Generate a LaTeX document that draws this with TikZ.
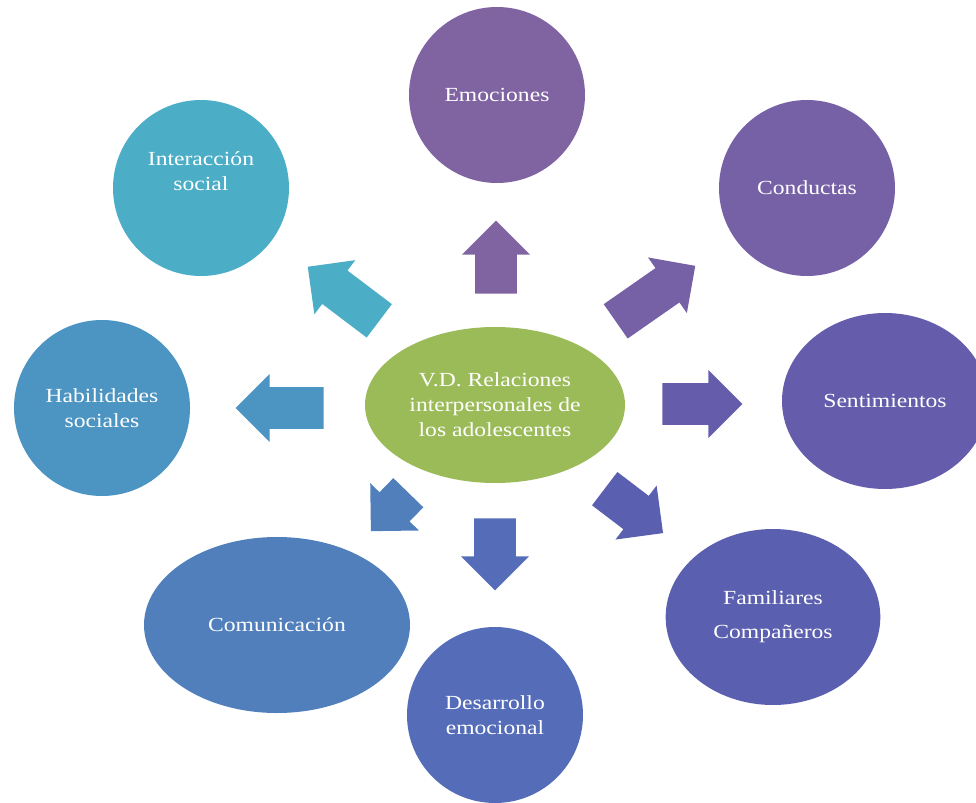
\documentclass[tikz,border=0pt]{standalone}
\usepackage{fontspec}
\setmainfont[FakeStretch=1.18]{Liberation Serif}
\usetikzlibrary{shapes.geometric, shapes.arrows}

\definecolor{cVD}{HTML}{9BBB59}
\definecolor{cEmo}{HTML}{8064A2}
\definecolor{cCond}{HTML}{7660A6}
\definecolor{cSent}{HTML}{655DAB}
\definecolor{cFam}{HTML}{5A5FB0}
\definecolor{cDes}{HTML}{556DB9}
\definecolor{cCom}{HTML}{507FBC}
\definecolor{cHab}{HTML}{4C94C1}
\definecolor{cInt}{HTML}{4BADC6}

\begin{document}
\begin{tikzpicture}[x=0.75pt,y=-0.75pt,
        bubble/.style={ellipse,inner sep=0pt,text=white,align=center,
            font=\fontsize{15}{18.75}\selectfont,minimum width=132pt,minimum height=132pt},
        bigarrow/.style={single arrow,anchor=tail,inner sep=0pt,inner ysep=15.5pt,
            single arrow head extend=9.75pt,single arrow tip angle=90}]
        \useasboundingbox (0,0) rectangle (976,803);

        % centre and the eight themes
        \node[bubble,fill=cVD,minimum width=195pt,minimum height=117pt] (vd) at (495,405) {V.D. Relaciones\\interpersonales de\\los adolescentes};
        \node[bubble,fill=cEmo] (emo) at (497,95) {Emociones};
        \node[bubble,fill=cCond] (cond) at (807,188) {Conductas};
        \node[bubble,fill=cSent,minimum width=154.5pt] (sent) at (885,401) {Sentimientos};
        \node[bubble,fill=cFam,minimum width=161pt] (fam) at (773,617) {Familiares\\[7pt]Compañeros};
        \node[bubble,fill=cDes] (des) at (495,715) {Desarrollo\\emocional};
        \node[bubble,fill=cCom,minimum width=199.5pt] (com) at (277,625) {Comunicación};
        \node[bubble,fill=cHab] (hab) at (102,408) {Habilidades\\sociales};
        \node[bubble,fill=cInt,text depth=26pt] (int) at (201,188) {Interacción\\social};

        % block arrows out of the centre
        \node[bigarrow,fill=cEmo,rotate=90,minimum height=54.75pt] (a1) at (496,294) {};
        \node[bigarrow,fill=cCond,rotate=34.9,minimum height=72.75pt] (a2) at (615.5,321.5) {};
        \node[bigarrow,fill=cSent,rotate=0,minimum height=60pt] (a3) at (662,404) {};
        \node[bigarrow,fill=cFam,rotate=-37.3,minimum height=55pt] (a4) at (604.5,488.5) {};
        \node[bigarrow,fill=cDes,rotate=-90,minimum height=54pt] (a5) at (495,518) {};
        \node[bigarrow,fill=cCom,rotate=225.8,minimum height=40.25pt] (a6) at (408.5,492.5) {};
        \node[bigarrow,fill=cHab,rotate=180,minimum height=66pt] (a7) at (324,408) {};
        \node[bigarrow,fill=cInt,rotate=142.9,minimum height=67.25pt] (a8) at (379.5,321) {};
    \end{tikzpicture}
\end{document}
